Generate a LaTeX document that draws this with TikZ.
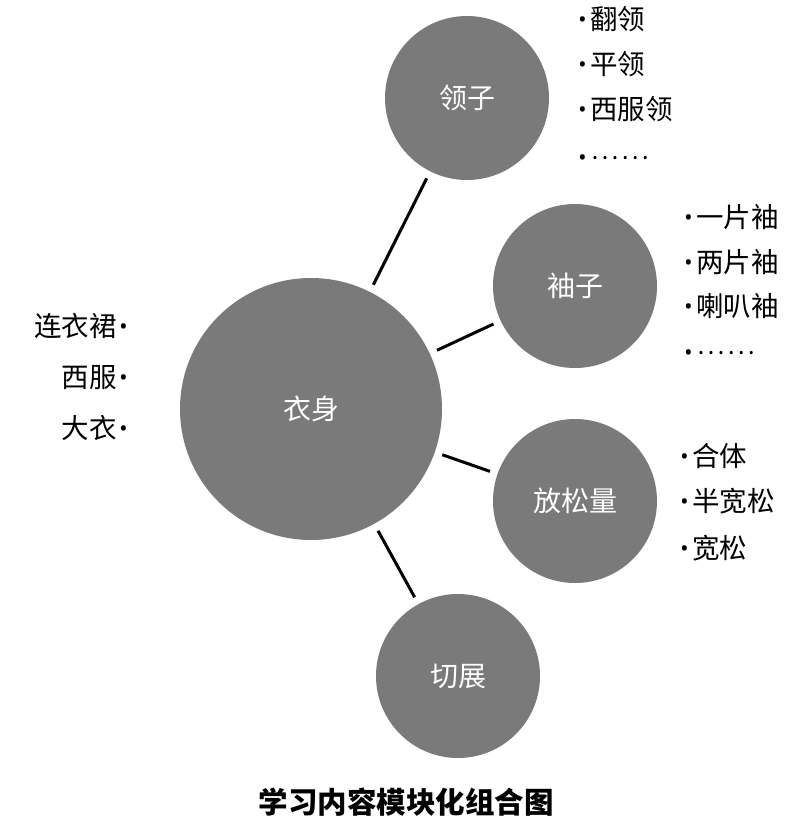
\documentclass[tikz,border=0pt]{standalone}
\usepackage{fontspec}
\setmainfont{Noto Sans CJK SC}
\newfontfamily\dotf{Noto Sans}
\newcommand\bul{\raisebox{-4pt}{\dotf\fontsize{40}{40}\selectfont ·}}
\newcommand\sdot{\raisebox{1pt}{\dotf\fontsize{24}{24}\selectfont ·}\kern3.6pt}
\newcommand\dotrow{\bul\kern3.4pt\sdot\sdot\sdot\sdot\sdot\sdot}
\definecolor{discgray}{RGB}{122,122,122}
\begin{document}
\begin{tikzpicture}[x=1pt,y=-1pt,
  disc/.style={circle,fill=discgray,draw=none,inner sep=0pt,outer sep=0pt,text=white,
    font=\fontsize{28}{28}\selectfont},
  big/.style={disc,minimum size=262pt},
  small/.style={disc,minimum size=164pt},
  conn/.style={line width=3pt,black,shorten <=8pt,shorten >=8pt},
  item/.style={anchor=west,inner sep=0pt,font=\fontsize{27.5}{27.5}\selectfont},
  litem/.style={anchor=east,inner sep=0pt,font=\fontsize{27.5}{27.5}\selectfont}]
\useasboundingbox (0,0) rectangle (791,832);
\node[big] (body) at (311,409) {衣身};
\node[small] (collar) at (467,98) {领子};
\node[small] (sleeve) at (575,286) {袖子};
\node[small] (ease) at (575,501) {放松量};
\node[small] (cut) at (458,676) {切展};
\draw[conn] (body) -- (collar);
\draw[conn] (body) -- (sleeve);
\draw[conn] (body) -- (ease);
\draw[conn] (body) -- (cut);
% collar list
\node[item] (c1) at (577.6,19.5) {\bul\kern1.5pt 翻领};
\node[item] (c2) at (577.6,64.5) {\bul\kern1.5pt 平领};
\node[item] (c3) at (577.6,109.5) {\bul\kern1.5pt 西服领};
\node[item] (c4) at (577.6,163) {\dotrow};
% sleeve list
\node[item] (s1) at (683.6,217.5) {\bul\kern1.5pt 一片袖};
\node[item] (s2) at (683.6,262.5) {\bul\kern1.5pt 两片袖};
\node[item] (s3) at (683.6,306.5) {\bul\kern1.5pt 喇叭袖};
\node[item] (s4) at (683.6,358) {\dotrow};
% ease list
\node[item] (e1) at (679.6,456.5) {\bul\kern1.5pt 合体};
\node[item] (e2) at (679.6,501.5) {\bul\kern1.5pt 半宽松};
\node[item] (e3) at (679.6,548.5) {\bul\kern1.5pt 宽松};
% left list
\node[litem] (l1) at (129,326.5) {连衣裙\kern1.5pt\bul};
\node[litem] (l2) at (129,378.5) {西服\kern1.5pt\bul};
\node[litem] (l3) at (129,428.5) {大衣\kern1.5pt\bul};
% caption
\node[inner sep=0pt,font=\fontsize{29.5}{29.5}\selectfont\bfseries] (cap) at (406,802) {学习内容模块化组合图};
\end{tikzpicture}
\end{document}
